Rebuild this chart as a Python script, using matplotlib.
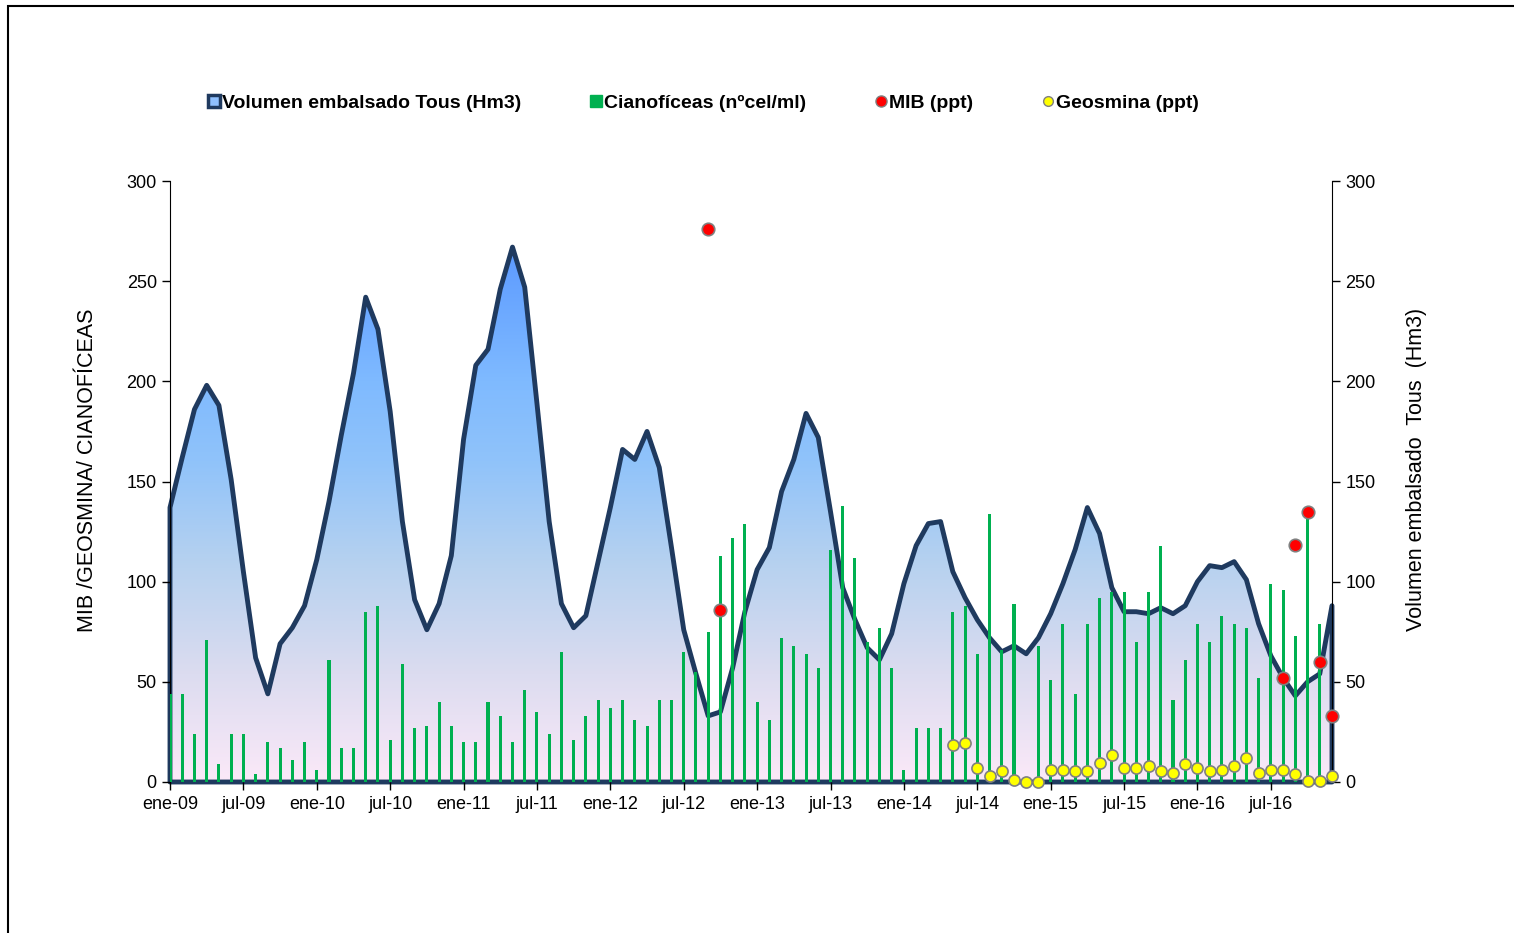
import numpy as np
import matplotlib
matplotlib.use("Agg")
import matplotlib.pyplot as plt
from matplotlib.patches import Polygon, Rectangle
from matplotlib.colors import LinearSegmentedColormap
from matplotlib.lines import Line2D

plt.rcParams['font.family'] = ['Liberation Sans', 'DejaVu Sans']

# meses ene-09 .. dic-16
meses_abr = ['ene', 'feb', 'mar', 'abr', 'may', 'jun',
             'jul', 'ago', 'sep', 'oct', 'nov', 'dic']
anios = ['09', '10', '11', '12', '13', '14', '15', '16']
meses = [f'{m}-{a}' for a in anios for m in meses_abr]

# Volumen embalsado Tous (Hm3), mensual
volumen = [137, 162, 186, 198, 188, 151, 105, 62, 44, 69, 77, 88,
           111, 140, 173, 204, 242, 226, 185, 130, 91, 76, 89, 113,
           171, 208, 216, 246, 267, 247, 189, 130, 89, 77, 83, 110,
           137, 166, 161, 175, 157, 117, 76, 54, 33, 35, 57, 85,
           106, 117, 145, 161, 184, 172, 135, 97, 81, 67, 61, 74,
           99, 118, 129, 130, 105, 92, 81, 72, 65, 68, 64, 72,
           84, 99, 116, 137, 124, 97, 85, 85, 84, 87, 84, 88,
           100, 108, 107, 110, 101, 79, 63, 52, 43, 50, 54, 88]

# Cianofíceas (nºcel/ml)
ciano = [44, 44, 24, 71, 9, 24, 24, 4, 20, 17, 11, 20,
         6, 61, 17, 17, 85, 88, 21, 59, 27, 28, 40, 28,
         20, 20, 40, 33, 20, 46, 35, 24, 65, 21, 33, 41,
         37, 41, 31, 28, 41, 41, 65, 55, 75, 113, 122, 129,
         40, 31, 72, 68, 64, 57, 116, 138, 112, 70, 77, 57,
         6, 27, 27, 27, 85, 88, 64, 134, 66, 89, 0, 68,
         51, 79, 44, 79, 92, 95, 95, 70, 95, 118, 41, 61,
         79, 70, 83, 79, 77, 52, 99, 96, 73, 135, 79, 0]

# MIB (ppt)
mib_mes = ['sep-12', 'oct-12', 'ago-16', 'sep-16', 'oct-16', 'nov-16', 'dic-16']
mib = [276, 86, 52, 118.5, 135, 60, 33]

# Geosmina (ppt), may-14 .. dic-16
geo_mes = meses[64:]
geosmina = [18.5, 19.5, 7, 3, 5.5, 1, 0, 0, 6, 6, 5.5, 5.5, 9.5, 13.5, 7, 7,
            8, 5.5, 4.5, 9, 7, 5.5, 6, 8, 12, 4.5, 6, 6, 4, 0.5, 0.5, 3]

x = np.arange(len(meses))
pos = {m: i for i, m in enumerate(meses)}
navy = '#1f3a5f'
verde = '#00b050'

fig = plt.figure(figsize=(15.14, 9.33), dpi=100)
ax = fig.add_axes([170 / 1514, 1 - 782 / 933, (1332 - 170) / 1514, (782 - 181) / 933])
ax2 = ax.twinx()

# área de volumen con degradado (eje secundario)
verts = [(0, 0)] + list(zip(x, volumen)) + [(x[-1], 0)]
cmap = LinearSegmentedColormap.from_list(
    'vol', [(0.0, '#fbe9f8'), (0.2, '#dcdcf0'), (0.4, '#b8d2ef'),
            (0.6, '#90c3fa'), (0.75, '#7fbaff'), (1.0, '#5c9aff')])
grad = np.linspace(0, 1, 256).reshape(-1, 1)
img = ax2.imshow(grad, extent=[0, x[-1], 0, max(volumen)], origin='lower',
                 aspect='auto', cmap=cmap, zorder=1)
clip = Polygon(verts, closed=True, transform=ax2.transData, facecolor='none')
img.set_clip_path(clip)
ax2.add_patch(Polygon(verts, closed=True, facecolor='none', edgecolor=navy,
                      lw=3.5, joinstyle='round', zorder=2, clip_on=False))

# barras y puntos sobre el área
ax.set_zorder(ax2.get_zorder() + 1)
ax.patch.set_visible(False)
ax.bar(x, ciano, width=0.25, color=verde, zorder=3)
ax.plot([pos[m] for m in mib_mes], mib, 'o', ms=9, mfc='#ff0000',
        mec='#808080', mew=1.2, zorder=5, clip_on=False)
ax.plot([pos[m] for m in geo_mes], geosmina, 'o', ms=8, mfc='#ffff00',
        mec='#808080', mew=1.2, zorder=5, clip_on=False)

for a in (ax, ax2):
    a.set_xlim(0, x[-1])
    a.set_ylim(0, 300)
    a.set_yticks(range(0, 301, 50))
    a.tick_params(axis='y', direction='out', length=6, width=1, labelsize=13)
    a.spines['top'].set_visible(False)
    a.spines['bottom'].set_visible(False)

ax.spines['right'].set_visible(False)
ax2.spines['left'].set_visible(False)
ax.set_xticks(x[::6])
ax.set_xticklabels(meses[::6])
ax.tick_params(axis='x', direction='out', length=6, width=1, labelsize=13, pad=4)

ax.set_ylabel('MIB /GEOSMINA/ CIANOFÍCEAS', fontsize=15.5)
ax2.set_ylabel('Volumen embalsado  Tous  (Hm3)', fontsize=15.5)
ax.yaxis.set_label_coords(-0.062, 0.518)
ax2.yaxis.set_label_coords(1.0635, 0.52)

handles = [
    Line2D([], [], ls='none', marker='s', ms=9, mfc='#8fc0ff', mec=navy, mew=2.5),
    Line2D([], [], ls='none', marker='s', ms=9, mfc=verde, mec=verde),
    Line2D([], [], ls='none', marker='o', ms=8, mfc='#ff0000', mec='#808080'),
    Line2D([], [], ls='none', marker='o', ms=7, mfc='#ffff00', mec='#808080'),
]
labels = ['Volumen embalsado Tous (Hm3)', 'Cianofíceas (nºcel/ml)',
          'MIB (ppt)', 'Geosmina (ppt)']
fig.legend(handles, labels, loc='center', bbox_to_anchor=(704 / 1514, 1 - 103 / 933),
           ncol=4, frameon=False, handlelength=0.5, handletextpad=0.15,
           columnspacing=3.6,
           prop={'family': 'Liberation Sans', 'weight': 'bold', 'size': 14})

# marco del gráfico
fig.add_artist(Rectangle((8 / 1514, -0.1), 1.1, 1.1 - 6 / 933,
                         transform=fig.transFigure, fill=False, ec='black', lw=1.5))

fig.savefig('out.png', dpi=100)
